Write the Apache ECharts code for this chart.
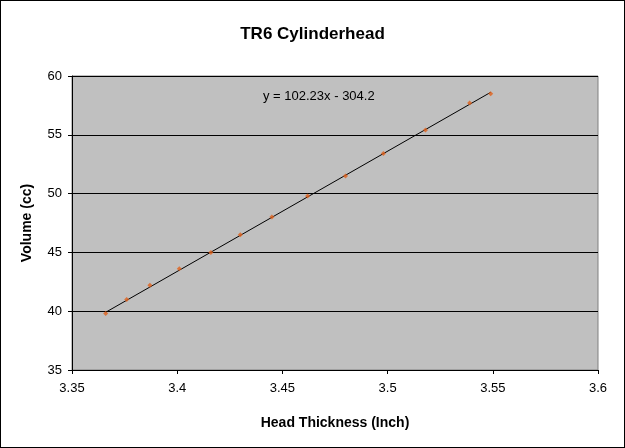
<!DOCTYPE html>
<html><head><meta charset="utf-8">
<script src="https://cdn.jsdelivr.net/npm/echarts@6/dist/echarts.min.js"></script>
<style>html,body{margin:0;padding:0;background:#fff}#c{width:623px;height:446px;border:1px solid #000}</style>
</head><body><div id="c"></div>
<script>
// measured points (head thickness in inch, volume in cc)
var thickness = [3.366, 3.376, 3.387, 3.401, 3.416, 3.43, 3.445, 3.462, 3.48, 3.498, 3.518, 3.539, 3.549];
var volume = [39.8, 41.0, 42.2, 43.6, 45.0, 46.5, 48.0, 49.8, 51.5, 53.4, 55.4, 57.7, 58.5];
// linear trend
var slope = 102.23, intercept = -304.2;
var trendX = [3.366, 3.549];

var chart = echarts.init(document.getElementById('c'));
var font = 'Liberation Sans, Arial, sans-serif';
chart.setOption({
    animation: false,
    title: {text: 'TR6 Cylinderhead', left: 'center', top: 20,
        textStyle: {fontFamily: font, fontSize: 17, fontWeight: 'bold', color: '#000'}},
    grid: {left: 71, right: 26, top: 75, bottom: 77, show: true, backgroundColor: '#c0c0c0', borderColor: '#808080', borderWidth: 1},
    xAxis: {type: 'value', min: 3.35, max: 3.6, interval: 0.05,
        name: 'Head Thickness (Inch)', nameLocation: 'middle', nameGap: 46,
        nameTextStyle: {fontFamily: font, fontSize: 14, fontWeight: 'bold', color: '#000'},
        axisLine: {lineStyle: {color: '#000'}}, axisTick: {show: true, inside: false, length: 4},
        axisLabel: {fontFamily: font, fontSize: 13, color: '#000', margin: 12},
        splitLine: {show: false}},
    yAxis: {type: 'value', min: 35, max: 60, interval: 5,
        name: 'Volume (cc)', nameLocation: 'middle', nameGap: 38,
        nameTextStyle: {fontFamily: font, fontSize: 14, fontWeight: 'bold', color: '#000'},
        axisLine: {show: true, lineStyle: {color: '#000'}}, axisTick: {show: true, length: 4},
        axisLabel: {fontFamily: font, fontSize: 13, color: '#000', margin: 10},
        splitLine: {lineStyle: {color: '#000', width: 1}}},
    series: [{
        type: 'line', data: trendX.map(function (x) { return [x, slope * x + intercept]; }),
        symbol: 'none', lineStyle: {color: '#000', width: 1}, z: 2
    }, {
        type: 'scatter', data: thickness.map(function (x, i) { return [x, volume[i]]; }),
        symbol: 'diamond', symbolSize: 5, itemStyle: {color: '#e0601a'}, z: 3
    }],
    graphic: [{type: 'text', left: 262, top: 89,
        style: {text: 'y = 102.23x - 304.2', font: '13px ' + font, fill: '#000'}}]
});
</script></body></html>
